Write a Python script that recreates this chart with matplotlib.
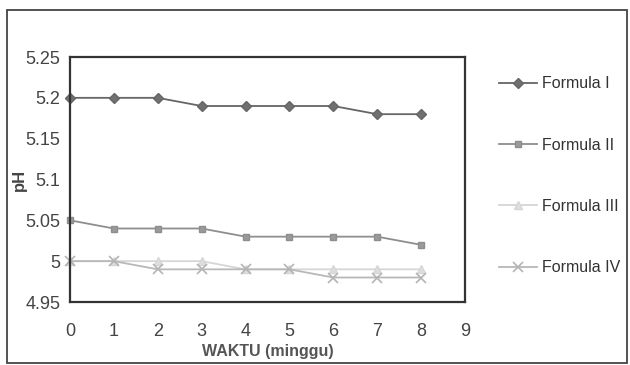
import matplotlib.pyplot as plt
from matplotlib.patches import Rectangle

# pH per week for each formula
minggu = [0, 1, 2, 3, 4, 5, 6, 7, 8]
formula_1 = [5.20, 5.20, 5.20, 5.19, 5.19, 5.19, 5.19, 5.18, 5.18]
formula_2 = [5.05, 5.04, 5.04, 5.04, 5.03, 5.03, 5.03, 5.03, 5.02]
formula_3 = [5.00, 5.00, 5.00, 5.00, 4.99, 4.99, 4.99, 4.99, 4.99]
formula_4 = [5.00, 5.00, 4.99, 4.99, 4.99, 4.99, 4.98, 4.98, 4.98]

labels = ["Formula I", "Formula II", "Formula III", "Formula IV"]
y_ticks = [4.95, 5.0, 5.05, 5.1, 5.15, 5.2, 5.25]
y_ticklabels = ["4.95", "5", "5.05", "5.1", "5.15", "5.2", "5.25"]
x_ticks = [0, 1, 2, 3, 4, 5, 6, 7, 8, 9]

plt.rcParams['font.family'] = ['Liberation Sans', 'DejaVu Sans']

fig = plt.figure(figsize=(6.3, 3.65), dpi=100)
ax = fig.add_axes([70/630, 1 - 302/365, (465 - 70)/630, (302 - 57)/365])

ax.plot(minggu, formula_1, color='#666666', lw=1.3, marker='D', ms=5.5,
        mfc='#707070', mec='#666666', label=labels[0], clip_on=False)
ax.plot(minggu, formula_2, color='#8e8e8e', lw=1.3, marker='s', ms=5,
        mfc='#9a9a9a', mec='#8e8e8e', label=labels[1], clip_on=False)
ax.plot(minggu, formula_3, color='#d6d6d6', lw=1.3, marker='^', ms=5.5,
        mfc='#dedede', mec='#d6d6d6', label=labels[2], clip_on=False)
ax.plot(minggu, formula_4, color='#b8b8b8', lw=1.3, marker='x', ms=7,
        mew=1.2, mec='#b4b4b4', label=labels[3], clip_on=False)

ax.set_xlim(0, 9)
ax.set_ylim(4.95, 5.25)
ax.set_yticks(y_ticks)
ax.set_yticklabels(y_ticklabels)
ax.set_xticks(x_ticks)
ax.tick_params(length=0, labelsize=13, colors='#444444')
ax.tick_params(axis='x', pad=15)
ax.tick_params(axis='y', pad=7)
for s in ax.spines.values():
    s.set_color('#333333')
    s.set_linewidth(1.6)

ax.set_xlabel("WAKTU (minggu)", fontsize=11.5, fontweight='bold',
              color='#555555', labelpad=3)
ax.set_ylabel("pH", fontsize=12, fontweight='bold', color='#444444')
ax.yaxis.set_label_coords(-0.11, 0.5)

ax.legend(loc='upper left', bbox_to_anchor=(1.05, 0.98), frameon=False,
          fontsize=11.5, labelspacing=2.9, handlelength=2.4, handletextpad=0.3,
          labelcolor='#333333')

# outer chart frame
fig.patches.append(Rectangle((7/630, 0.005), 620/630, 1 - 10/365 - 0.005,
                             transform=fig.transFigure, fill=False,
                             edgecolor='#444444', lw=1.3))

fig.savefig("out.png", dpi=100)
